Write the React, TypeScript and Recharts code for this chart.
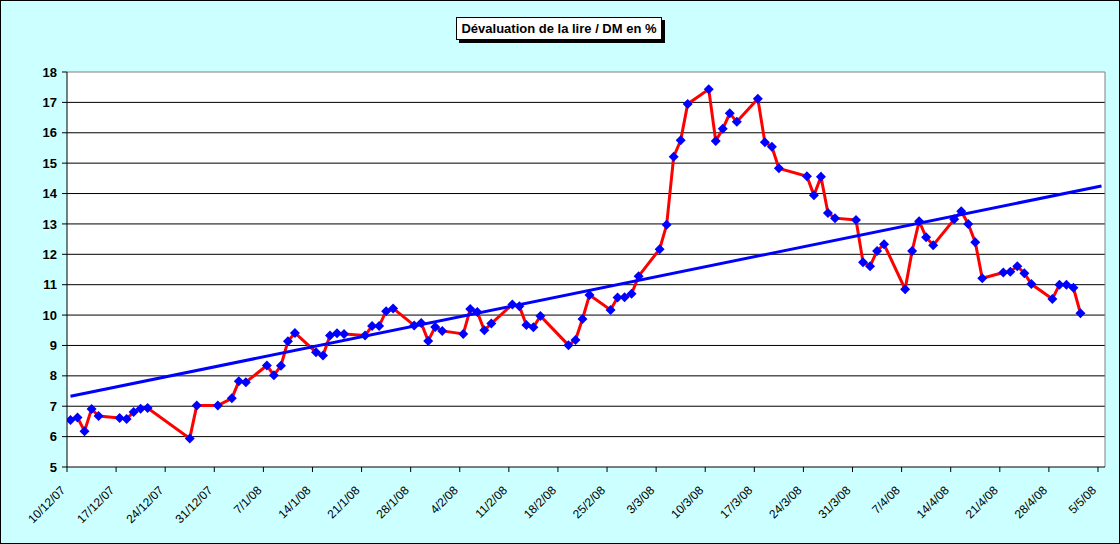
import {
  CartesianGrid,
  Line,
  LineChart,
  ReferenceLine,
  XAxis,
  YAxis,
} from "recharts";

const dates = [
  "2007-12-10", "2007-12-11", "2007-12-12", "2007-12-13", "2007-12-14",
  "2007-12-17", "2007-12-18", "2007-12-19", "2007-12-20", "2007-12-21",
  "2007-12-27", "2007-12-28", "2007-12-31", "2008-01-02", "2008-01-03",
  "2008-01-04", "2008-01-07", "2008-01-08", "2008-01-09", "2008-01-10",
  "2008-01-11", "2008-01-14", "2008-01-15", "2008-01-16", "2008-01-17",
  "2008-01-18", "2008-01-21", "2008-01-22", "2008-01-23", "2008-01-24",
  "2008-01-25", "2008-01-28", "2008-01-29", "2008-01-30", "2008-01-31",
  "2008-02-01", "2008-02-04", "2008-02-05", "2008-02-06", "2008-02-07",
  "2008-02-08", "2008-02-11", "2008-02-12", "2008-02-13", "2008-02-14",
  "2008-02-15", "2008-02-19", "2008-02-20", "2008-02-21", "2008-02-22",
  "2008-02-25", "2008-02-26", "2008-02-27", "2008-02-28", "2008-02-29",
  "2008-03-03", "2008-03-04", "2008-03-05", "2008-03-06", "2008-03-07",
  "2008-03-10", "2008-03-11", "2008-03-12", "2008-03-13", "2008-03-14",
  "2008-03-17", "2008-03-18", "2008-03-19", "2008-03-20", "2008-03-24",
  "2008-03-25", "2008-03-26", "2008-03-27", "2008-03-28", "2008-03-31",
  "2008-04-01", "2008-04-02", "2008-04-03", "2008-04-04", "2008-04-07",
  "2008-04-08", "2008-04-09", "2008-04-10", "2008-04-11", "2008-04-14",
  "2008-04-15", "2008-04-16", "2008-04-17", "2008-04-18", "2008-04-21",
  "2008-04-22", "2008-04-23", "2008-04-24", "2008-04-25", "2008-04-28",
  "2008-04-29", "2008-04-30", "2008-05-01", "2008-05-02",
];

const devaluation = [
  6.55, 6.63, 6.18, 6.91, 6.68,
  6.61, 6.58, 6.81, 6.92, 6.94,
  5.94, 7.02, 7.02, 7.26, 7.82,
  7.79, 8.34, 8.02, 8.33, 9.14,
  9.41, 8.78, 8.67, 9.33, 9.4,
  9.38, 9.33, 9.64, 9.64, 10.13,
  10.22, 9.66, 9.74, 9.15, 9.61,
  9.48, 9.38, 10.2, 10.1, 9.5,
  9.72, 10.35, 10.29, 9.67, 9.6,
  9.97, 9.01, 9.18, 9.87, 10.66,
  10.17, 10.58, 10.59, 10.7, 11.28,
  12.17, 12.97, 15.21, 15.75, 16.95,
  17.43, 15.73, 16.13, 16.64, 16.36,
  17.12, 15.69, 15.54, 14.83, 14.57,
  13.94, 14.55, 13.36, 13.19, 13.13,
  11.74, 11.61, 12.11, 12.33, 10.85,
  12.11, 13.09, 12.56, 12.3, 13.15,
  13.42, 13.0, 12.4, 11.21, 11.4,
  11.43, 11.61, 11.38, 11.02, 10.53,
  11.0, 11.0, 10.9, 10.06,
];

// linear trendline at its two ends
const trendDates = ["2007-12-10", "2008-05-05"];
const trendValues = [7.33, 14.25];

const yTicks = [5, 6, 7, 8, 9, 10, 11, 12, 13, 14, 15, 16, 17, 18];
const tickDates = [
  "2007-12-10", "2007-12-17", "2007-12-24", "2007-12-31", "2008-01-07",
  "2008-01-14", "2008-01-21", "2008-01-28", "2008-02-04", "2008-02-11",
  "2008-02-18", "2008-02-25", "2008-03-03", "2008-03-10", "2008-03-17",
  "2008-03-24", "2008-03-31", "2008-04-07", "2008-04-14", "2008-04-21",
  "2008-04-28", "2008-05-05",
];

const FONT = "Arial, 'Liberation Sans', sans-serif";
const DAY = 86400000;
const start = Date.parse(dates[0]);
const dayOf = (d: string) => Math.round((Date.parse(d) - start) / DAY);

// Excel date axis: each day is a slot, points sit in the middle of it
const series = dates.map((d, i) => ({ x: dayOf(d) + 0.5, v: devaluation[i] }));
const trend = trendDates.map((d, i) => ({ x: dayOf(d) + 0.5, v: trendValues[i] }));
const xTicks = tickDates.map(dayOf);
const lastDay = xTicks[xTicks.length - 1] + 1;

const fmtDate = (day: number) => {
  const d = new Date(start + day * DAY);
  return `${d.getUTCDate()}/${d.getUTCMonth() + 1}/${String(d.getUTCFullYear()).slice(2)}`;
};

const DateTick = ({ x, y, payload }: any) => (
  <g transform={`translate(${x - 1},${y + 19})`}>
    <text
      transform="rotate(-45)"
      textAnchor="end"
      fontSize={12}
      fontFamily={FONT}
      fill="#000"
    >
      {fmtDate(payload.value)}
    </text>
  </g>
);

const Diamond = ({ cx, cy, index }: any) => {
  if (cx == null || cy == null) return <g key={index} />;
  return (
    <polygon
      key={index}
      points={`${cx},${cy - 5} ${cx + 5},${cy} ${cx},${cy + 5} ${cx - 5},${cy}`}
      fill="#0000FF"
    />
  );
};

export default function App() {
  return (
    <div
      style={{
        position: "relative",
        width: 1120,
        height: 544,
        boxSizing: "border-box",
        border: "1px solid #000",
        background: "#CCFFFF",
        fontFamily: FONT,
      }}
    >
      <style>{"body{margin:0}"}</style>
      <div
        style={{
          position: "absolute",
          left: 455,
          top: 16,
          width: 206,
          height: 23,
          boxSizing: "border-box",
          background: "#fff",
          border: "1px solid #000",
          boxShadow: "3px 3px 0 #000",
          fontSize: 13,
          fontWeight: "bold",
          lineHeight: "21px",
          textAlign: "center",
          whiteSpace: "nowrap",
        }}
      >
        Dévaluation de la lire / DM en %
      </div>
      <div style={{ position: "absolute", left: -1, top: -1 }}>
        <LineChart
          width={1120}
          height={544}
          margin={{ top: 72, right: 15, left: 0, bottom: 0 }}
        >
          <CartesianGrid
            fill="#fff"
            stroke="#000"
            vertical={false}
            horizontalValues={yTicks.slice(1, -1)}
          />
          <XAxis
            type="number"
            dataKey="x"
            domain={[0, lastDay]}
            ticks={xTicks}
            interval={0}
            allowDataOverflow
            height={77}
            axisLine={{ stroke: "#000" }}
            tickLine={{ stroke: "#000" }}
            tickSize={5}
            tickMargin={0}
            tick={<DateTick />}
          />
          <YAxis
            type="number"
            domain={[5, 18]}
            ticks={yTicks}
            interval={0}
            width={67}
            axisLine={{ stroke: "#000" }}
            tickLine={{ stroke: "#000" }}
            tickSize={5}
            tickMargin={5}
            tick={{ fill: "#000", fontSize: 13, fontWeight: "bold", fontFamily: FONT }}
          />
          <ReferenceLine y={18} stroke="#808080" />
          <ReferenceLine x={lastDay} stroke="#808080" />
          <Line
            data={series}
            dataKey="v"
            type="linear"
            stroke="#FF0000"
            strokeWidth={3}
            dot={Diamond}
            activeDot={false}
            isAnimationActive={false}
          />
          <Line
            data={trend}
            dataKey="v"
            type="linear"
            stroke="#0000FF"
            strokeWidth={3}
            dot={false}
            activeDot={false}
            isAnimationActive={false}
          />
        </LineChart>
      </div>
    </div>
  );
}
